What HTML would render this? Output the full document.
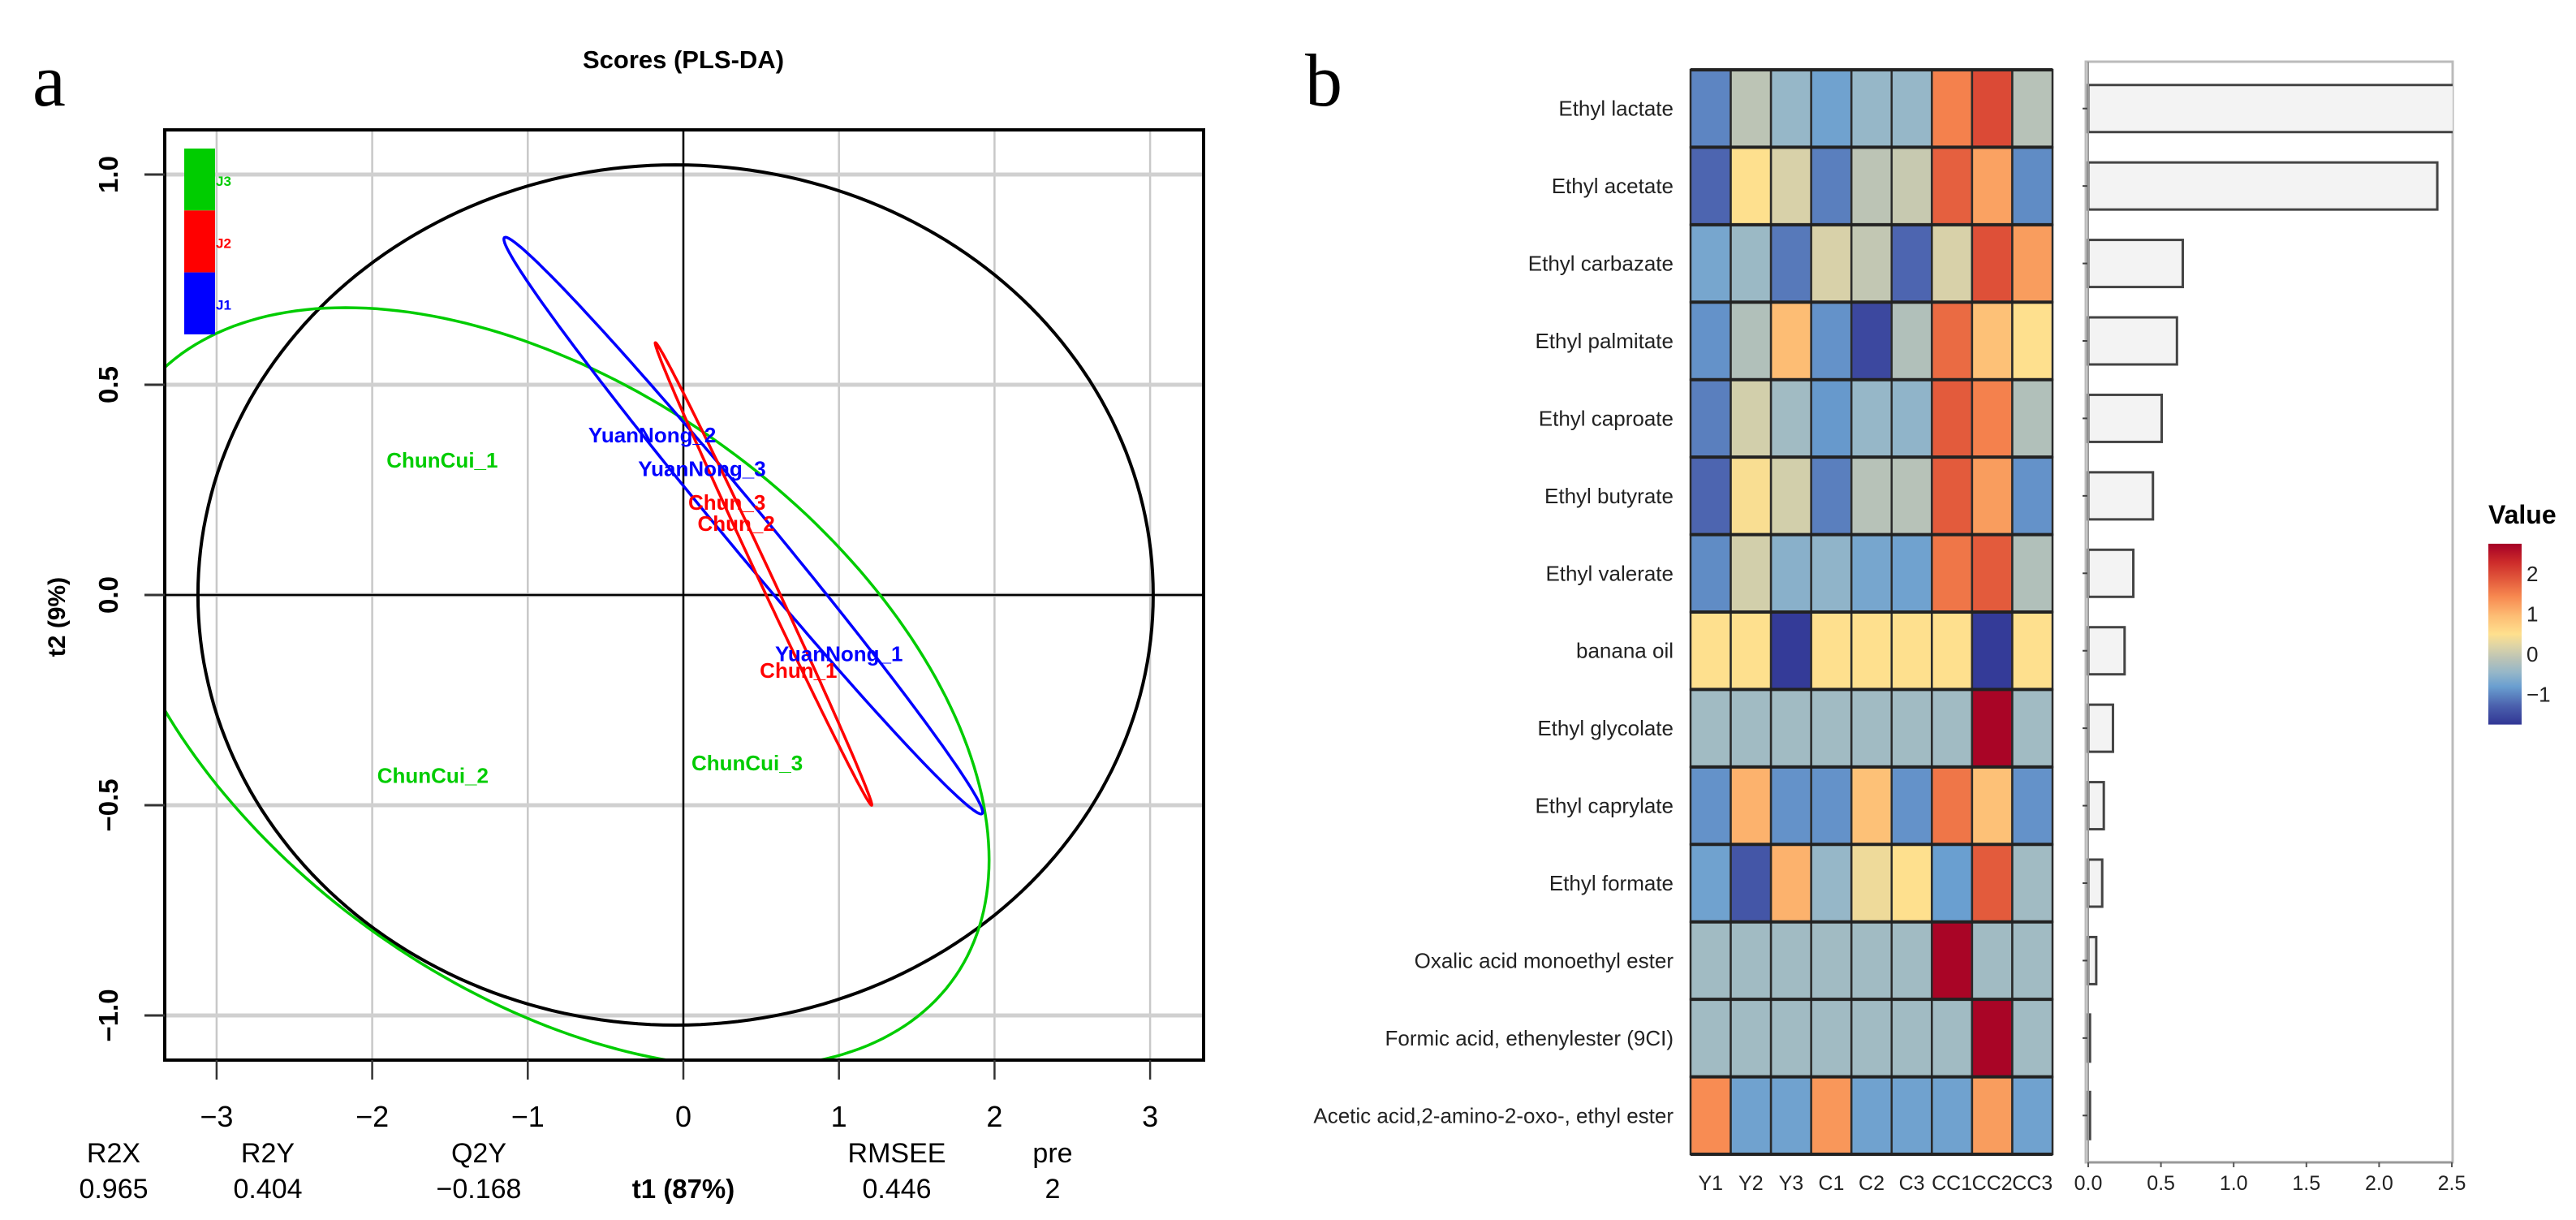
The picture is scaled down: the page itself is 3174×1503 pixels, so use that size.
<!DOCTYPE html>
<html><head><meta charset="utf-8"><style>
html,body{margin:0;padding:0;background:#fff;}
svg{display:block;font-family:"Liberation Sans",sans-serif;}
</style></head><body>
<svg id="fig" width="3174" height="1503" viewBox="0 0 3174 1503" xmlns="http://www.w3.org/2000/svg">
<defs>
<clipPath id="plotClip"><rect x="203" y="160" width="1280" height="1146"/></clipPath>
<clipPath id="barClip"><rect x="2570" y="76" width="452" height="1356"/></clipPath>
<linearGradient id="legGrad" x1="0" y1="1" x2="0" y2="0"></linearGradient>
</defs>
<text x="40" y="130" font-family="Liberation Serif,serif" font-size="92">a</text>
<text x="1608" y="130" font-family="Liberation Serif,serif" font-size="92">b</text>
<text x="842" y="84" text-anchor="middle" font-size="31" font-weight="bold">Scores (PLS-DA)</text>
<g id="left"></g>
<g id="right"></g>
</svg>
<script>
// ---------- Panel a data ----------
const xTicks = [-3,-2,-1,0,1,2,3];
const yTicks = [1.0,0.5,0.0,-0.5,-1.0];
const yTickLabels = ["1.0","0.5","0.0","\u22120.5","\u22121.0"];
const sampleNames = ["YuanNong_2","YuanNong_3","Chun_3","Chun_2","ChunCui_1","YuanNong_1","Chun_1","ChunCui_2","ChunCui_3"];
const sampleX = [-0.20,0.12,0.28,0.34,-1.55,1.0,0.74,-1.61,0.41];
const sampleY = [0.38,0.30,0.22,0.17,0.32,-0.14,-0.18,-0.43,-0.40];
const sampleGroup = ["J1","J1","J2","J2","J3","J1","J2","J3","J3"];
// ellipses: center, major vector, minor vector (data units)
const ellipseNames = ["hotelling","J3","J1","J2"];
const ellCX = [-0.05,-0.880,0.385,0.515];
const ellCY = [0.0,-0.220,0.165,0.05];
const ellUX = [3.07,2.845,1.535,0.695];
const ellUY = [0,-0.410,-0.685,-0.55];
const ellVX = [0,0,0.104,0.038];
const ellVY = [1.023,-0.805,0.032,0.0064];
const statNames = ["R2X","R2Y","Q2Y","RMSEE","pre"];
const statValues = ["0.965","0.404","\u22120.168","0.446","2"];
const statX = [140,330,590,1105,1297];
const groupColor = {J1:"#0000ff",J2:"#ff0000",J3:"#00cc00",hotelling:"#000000"};

// ---------- Panel b data ----------
const compounds = ["Ethyl lactate","Ethyl acetate","Ethyl carbazate","Ethyl palmitate","Ethyl caproate","Ethyl butyrate","Ethyl valerate","banana oil","Ethyl glycolate","Ethyl caprylate","Ethyl formate","Oxalic acid monoethyl ester","Formic acid, ethenylester (9CI)","Acetic acid,2-amino-2-oxo-, ethyl ester"];
const samples = ["Y1","Y2","Y3","C1","C2","C3","CC1","CC2","CC3"];
const heat = [
 [-1.0,-0.1,-0.45,-0.75,-0.45,-0.45,1.5,2.0,-0.15],
 [-1.25,0.5,0.15,-1.05,-0.1,0.0,1.8,1.2,-0.95],
 [-0.7,-0.4,-1.1,0.15,-0.05,-1.25,0.15,1.95,1.25],
 [-0.9,-0.2,0.95,-0.9,-1.55,-0.2,1.7,0.9,0.5],
 [-1.05,0.1,-0.35,-0.85,-0.45,-0.5,1.85,1.5,-0.2],
 [-1.25,0.45,0.1,-1.05,-0.15,-0.15,1.85,1.25,-0.9],
 [-0.95,0.1,-0.55,-0.5,-0.7,-0.75,1.6,1.85,-0.2],
 [0.5,0.5,-1.7,0.5,0.5,0.5,0.5,-1.7,0.5],
 [-0.35,-0.35,-0.35,-0.35,-0.35,-0.35,-0.35,2.7,-0.35],
 [-0.9,1.05,-0.9,-0.9,0.9,-0.9,1.6,0.9,-0.9],
 [-0.75,-1.4,1.05,-0.45,0.35,0.5,-0.8,1.85,-0.35],
 [-0.35,-0.35,-0.35,-0.35,-0.35,-0.35,2.7,-0.35,-0.35],
 [-0.35,-0.35,-0.35,-0.35,-0.35,-0.35,-0.35,2.7,-0.35],
 [1.4,-0.75,-0.75,1.3,-0.75,-0.75,-0.75,1.25,-0.75]
];
const importance = [2.6,2.40,0.65,0.61,0.505,0.445,0.31,0.25,0.17,0.107,0.096,0.055,0.012,0.012];
const barTicks = [0,0.5,1,1.5,2,2.5];
const barTickLabels = ["0.0","0.5","1.0","1.5","2.0","2.5"];
const legendTicks = [2,1,0,-1];
const legendTickLabels = ["2","1","0","\u22121"];
const palVals = [-1.75,-1.3,-0.8,-0.45,-0.1,0.2,0.5,0.95,1.45,1.9,2.3,2.75];
const palCols = ["#313695","#4a5fac","#6a9fd0","#96b7c8","#bcc4b5","#ddd4a6","#fee08e","#fdbd74","#f7874f","#e0553a","#cc2a2a","#a50026"];

const NS="http://www.w3.org/2000/svg";
function mk(tag, attrs, parent){const e=document.createElementNS(NS,tag);for(const k in attrs)e.setAttribute(k,attrs[k]);parent.appendChild(e);return e;}
const L=document.getElementById('left'), R=document.getElementById('right');

const sx=v=>842+191.7*v, sy=v=>733-518*v;
const BL=203, BR=1483, BT=160, BB=1306;

xTicks.forEach(t=>{const g=mk('line',{x1:sx(t),x2:sx(t),y1:BT,y2:BB,stroke:'#c8c8c8','stroke-width':2.5},L);

});
yTicks.forEach(t=>{const g=mk('line',{x1:BL,x2:BR,y1:sy(t),y2:sy(t),stroke:'#d0d0d0','stroke-width':5},L);

});
let z1=mk('line',{x1:sx(0),x2:sx(0),y1:BT,y2:BB,stroke:'#000','stroke-width':2.5},L);


let z2=mk('line',{x1:BL,x2:BR,y1:sy(0),y2:sy(0),stroke:'#000','stroke-width':2.5},L);



const eg=mk('g',{'clip-path':'url(#plotClip)'},L);
ellipseNames.forEach((n,i)=>{let d='';for(let k=0;k<=240;k++){const t=k/240*2*Math.PI;
const x=ellCX[i]+ellUX[i]*Math.cos(t)+ellVX[i]*Math.sin(t);
const y=ellCY[i]+ellUY[i]*Math.cos(t)+ellVY[i]*Math.sin(t);
d+=(k?'L':'M')+sx(x).toFixed(1)+' '+sy(y).toFixed(1);}
const p=mk('path',{d:d+'Z',fill:'none',stroke:groupColor[n],'stroke-width':n==='hotelling'?4:3.5},eg);

});

sampleNames.forEach((n,i)=>{const t=mk('text',{x:sx(sampleX[i]),y:sy(sampleY[i])+9,'text-anchor':'middle','font-size':26,'font-weight':'bold',fill:groupColor[sampleGroup[i]]},L);t.textContent=n;

});

const legG=["J3","J2","J1"];
legG.forEach((g,i)=>{const r=mk('rect',{x:227,y:183+i*76.3,width:38,height:76.3,fill:groupColor[g]},L);


const t=mk('text',{x:266,y:183+i*76.3+46,'font-size':17,'font-weight':'bold',fill:groupColor[g]},L);t.textContent=g;

});

let bx=mk('rect',{x:BL,y:BT,width:BR-BL,height:BB-BT,fill:'none',stroke:'#000','stroke-width':4},L);



xTicks.forEach(t=>{const l=mk('line',{x1:sx(t),x2:sx(t),y1:BB,y2:1330,stroke:'#333','stroke-width':2.5},L);


const tx=mk('text',{x:sx(t),y:1388,'text-anchor':'middle','font-size':36},L);tx.textContent=t<0?'\u2212'+(-t):String(t);

});
yTicks.forEach((t,i)=>{const l=mk('line',{x1:178,x2:BL,y1:sy(t),y2:sy(t),stroke:'#333','stroke-width':3},L);


const tx=mk('text',{x:145,y:sy(t),'text-anchor':'middle','font-size':33,'font-weight':'bold',transform:`rotate(-90 145 ${sy(t)})`},L);tx.textContent=yTickLabels[i];

});
let yt=mk('text',{x:80,y:760,'text-anchor':'middle','font-size':30,'font-weight':'bold',transform:'rotate(-90 80 760)'},L);yt.textContent='t2 (9%)';


let xt=mk('text',{x:842,y:1476,'text-anchor':'middle','font-size':33,'font-weight':'bold'},L);xt.textContent='t1 (87%)';


statNames.forEach((n,i)=>{const a=mk('text',{x:statX[i],y:1432,'text-anchor':'middle','font-size':34},L);a.textContent=n;


const b=mk('text',{x:statX[i],y:1476,'text-anchor':'middle','font-size':34},L);b.textContent=statValues[i];

});

// ---------- Panel b ----------
function hex(c){return [1,3,5].map(i=>parseInt(c.substr(i,2),16));}
function col(v){if(v<=palVals[0])return palCols[0];for(let i=1;i<palVals.length;i++){if(v<=palVals[i]){const f=(v-palVals[i-1])/(palVals[i]-palVals[i-1]);const a=hex(palCols[i-1]),b=hex(palCols[i]);return 'rgb('+a.map((x,k)=>Math.round(x+(b[k]-x)*f)).join(',')+')';}}return palCols[palCols.length-1];}
const hx0=2083, hy0=86, cw=(2529-2083)/samples.length, rh=(1422-86)/compounds.length;
const hx=j=>hx0+j*cw, hy=i=>hy0+i*rh;
heat.forEach((row,i)=>row.forEach((v,j)=>{const r=mk('rect',{x:hx(j),y:hy(i),width:cw,height:rh,fill:col(v),stroke:'#2a2a2a','stroke-width':2.5},R);

}));
compounds.forEach((c,i)=>{const l=mk('line',{x1:hx0,x2:2529,y1:hy(i),y2:hy(i),stroke:'#222','stroke-width':4},R);


const t=mk('text',{x:2062,y:hy(i)+rh/2+9,'text-anchor':'end','font-size':26,fill:'#222'},R);t.textContent=c;

});
let hb=mk('line',{x1:hx0,x2:2529,y1:1422,y2:1422,stroke:'#222','stroke-width':4},R);


samples.forEach((s,j)=>{const t=mk('text',{x:hx(j)+cw/2,y:1466,'text-anchor':'middle','font-size':25,fill:'#222'},R);t.textContent=s;

});

const bx0=2573, bsc=179.2, bxs=v=>bx0+v*bsc;
let bf=mk('rect',{x:2570,y:76,width:452,height:1356,fill:'#fff',stroke:'#bbb','stroke-width':3},R);


const bg=mk('g',{'clip-path':'url(#barClip)'},R);
importance.forEach((v,i)=>{const r=mk('rect',{x:bxs(0),y:hy(i)+rh/2-29,width:Math.max(bxs(v)-bxs(0),1),height:58,fill:'#f3f3f3',stroke:'#444','stroke-width':3},bg);


const tk=mk('line',{x1:bx0-7,x2:bx0,y1:hy(i)+rh/2,y2:hy(i)+rh/2,stroke:'#444','stroke-width':2},R);

});
let ba=mk('line',{x1:bx0,x2:bx0,y1:76,y2:1432,stroke:'#999','stroke-width':2},R);


let bxa=mk('line',{x1:bx0,x2:3022,y1:1432,y2:1432,stroke:'#999','stroke-width':3},R);


barTicks.forEach((t,i)=>{const l=mk('line',{x1:bxs(t),x2:bxs(t),y1:1432,y2:1438,stroke:'#555','stroke-width':2},R);


const tx=mk('text',{x:bxs(t),y:1466,'text-anchor':'middle','font-size':25,fill:'#222'},R);tx.textContent=barTickLabels[i];

});

const lg=document.getElementById('legGrad');
palVals.forEach((v,i)=>{mk('stop',{offset:((v-palVals[0])/(palVals[palVals.length-1]-palVals[0])).toFixed(3),'stop-color':palCols[i]},lg);});
const lvy=v=>806-49.5*v;
let lr=mk('rect',{x:3066,y:lvy(palVals[palVals.length-1]),width:41,height:lvy(palVals[0])-lvy(palVals[palVals.length-1]),fill:'url(#legGrad)'},R);


let lt=mk('text',{x:3066,y:645,'font-size':32,'font-weight':'bold'},R);lt.textContent='Value';


legendTicks.forEach((t,i)=>{const tx=mk('text',{x:3113,y:lvy(t)+9,'font-size':26,fill:'#222'},R);tx.textContent=legendTickLabels[i];

});
</script>
</body></html>
